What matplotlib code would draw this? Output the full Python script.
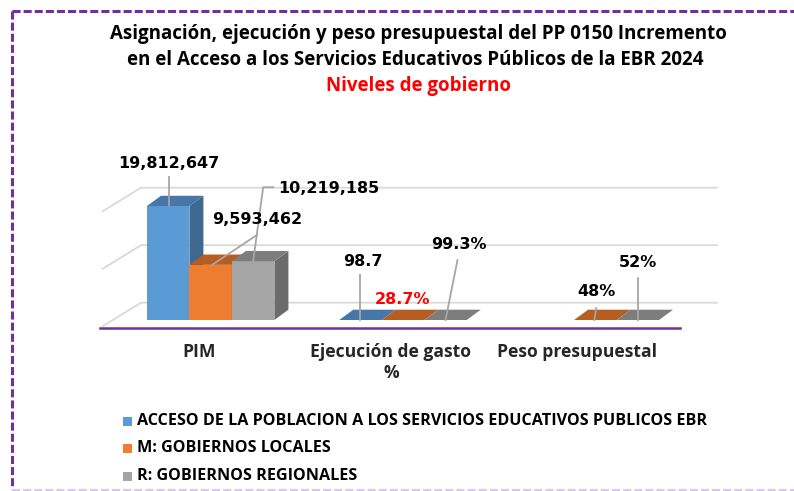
import numpy as np
import matplotlib
matplotlib.use("Agg")
import matplotlib.pyplot as plt
from matplotlib.patches import Polygon, Rectangle
from matplotlib.lines import Line2D

plt.rcParams['lines.scale_dashes'] = False

# ---------------- data ----------------
categories = ["PIM", "Ejecución de gasto\n%", "Peso presupuestal"]
series_names = ["ACCESO DE LA POBLACION A LOS SERVICIOS EDUCATIVOS PUBLICOS EBR",
                "M: GOBIERNOS LOCALES",
                "R: GOBIERNOS REGIONALES"]
acceso = [19812647, 98.7, np.nan]
locales = [9593462, 28.7, 48]
regionales = [10219185, 99.3, 52]
acceso_labels = ["19,812,647", "98.7", ""]
locales_labels = ["9,593,462", "28.7%", "48%"]
regionales_labels = ["10,219,185", "99.3%", "52%"]
y_ticks = [0, 10000000, 20000000]
title_lines = ["Asignación, ejecución y peso presupuestal del PP 0150 Incremento",
               "en el Acceso a los Servicios Educativos Públicos de la EBR 2024"]
subtitle = "Niveles de gobierno"

# ---------------- styling ----------------
front_cols = ["#5B9BD5", "#ED7D31", "#A5A5A5"]
top_cols = ["#4677A8", "#B55D22", "#7D7D7D"]
side_cols = ["#3D6890", "#A5541E", "#6B6B6B"]
label_cols = [["#000000"] * 3, ["#000000", "#FF0000", "#000000"], ["#000000"] * 3]
TFONT = "Open Sans"

W, H = 794, 491
fig = plt.figure(figsize=(W / 100, H / 100), dpi=100)
fig.patch.set_facecolor("white")

AX_L, AX_W, AX_BOT, AX_H = 114.5, 577.0, 320.0, 115.0
ax = fig.add_axes([AX_L / W, (H - AX_BOT) / H, AX_W / W, AX_H / H])
ax.set_xlim(-0.5, 2.5)
ax.set_ylim(0, y_ticks[-1])
ax.axis("off")

pxx = AX_W / 3.0
pxy = AX_H / y_ticks[-1]


def P(x, y, dx=0.0, dy=0.0):
    return (x + dx / pxx, y + dy / pxy)


FRONT = (-12.5, -6.7)
BACK = (26.5, 17.3)
BD = (14.0, 10.3)

# gridlines (back wall + left wall)
for t in y_ticks:
    a = P(-0.5, t, *FRONT)
    b = P(-0.5, t, *BACK)
    c = P(2.5, t, *BACK)
    ax.plot([a[0], b[0], c[0]], [a[1], b[1], c[1]], color="#D9D9D9", lw=1.3,
            clip_on=False, zorder=1, solid_capstyle="butt")

# purple floor front line
a = P(-0.5, 0, FRONT[0] - 2, FRONT[1] - 1.5)
b = P(2.5, 0, FRONT[0] + 1, FRONT[1] - 1.5)
ax.plot([a[0], b[0]], [a[1], b[1]], color="#7030A0", lw=1.8, clip_on=False, zorder=1.5)

# bars
bw = 42.5 / pxx
series = [acceso, locales, regionales]
labels = [acceso_labels, locales_labels, regionales_labels]
xpos = np.arange(len(categories))
offsets = [-bw, 0.0, bw]
for i, vals in enumerate(series):
    vals = np.array(vals, dtype=float)
    z = 2 + i
    ax.bar(xpos + offsets[i], vals, bw, color=front_cols[i], zorder=z, clip_on=False,
           linewidth=0)
    for j, v in enumerate(vals):
        if np.isnan(v):
            continue
        x0 = j + offsets[i] - bw / 2
        x1 = x0 + bw
        side = [P(x1, 0), P(x1, v), P(x1, v, *BD), P(x1, 0, *BD)]
        top = [P(x0, v), P(x1, v), P(x1, v, *BD), P(x0, v, *BD)]
        ax.add_patch(Polygon(side, closed=True, facecolor=side_cols[i], edgecolor="none",
                             zorder=z, clip_on=False))
        ax.add_patch(Polygon(top, closed=True, facecolor=top_cols[i], edgecolor="none",
                             zorder=z, clip_on=False))

# data labels with leader lines (pixel offsets from bar-top front centre)
label_pos = [[(1, 43), (2.5, 58), None],
             [(46.5, 45), (-0.5, 20), (1, 28)],
             [(76, 73), (13, 75), (0.5, 57)]]
leaders = [[[(1, 1), (1, 29)], [(0, 0), (0, 45)], None],
           [[(1.5, 0), (46.5, 30)], None, [(-1, 0), (1, 12)]],
           [[(0, 0), (10, 74), (20, 74)], [(0, 0), (12, 60)], [(0, 0), (0, 42)]]]
for i, vals in enumerate(series):
    for j, v in enumerate(vals):
        if np.isnan(v) or label_pos[i][j] is None:
            continue
        xc = j + offsets[i]
        if leaders[i][j] is not None:
            pts = [P(xc, v, dx, dy) for dx, dy in leaders[i][j]]
            ax.plot([p[0] for p in pts], [p[1] for p in pts], color="#A6A6A6", lw=1.3,
                    clip_on=False, zorder=9)
        tx, ty = P(xc, v, *label_pos[i][j])
        ax.text(tx, ty, labels[i][j], ha="center", va="center", fontsize=11.5,
                fontweight="bold", family="DejaVu Sans", color=label_cols[i][j],
                zorder=10, clip_on=False)

# category labels
cat_dx = [-12, -12, -18]
for j, c in enumerate(categories):
    tx, ty = P(j, 0, cat_dx[j], -23)
    ax.text(tx, ty, c, ha="center", va="top", fontsize=12.6, fontweight="bold",
            family=TFONT, color="#262626", linespacing=1.2, clip_on=False)

# title
fig.text(418 / W, 1 - 34 / H, title_lines[0], ha="center", va="center", fontsize=13.5,
         fontweight="bold", family=TFONT, color="#000000")
fig.text(415 / W, 1 - 60 / H, title_lines[1], ha="center", va="center", fontsize=13.5,
         fontweight="bold", family=TFONT, color="#000000")
fig.text(418 / W, 1 - 86 / H, subtitle, ha="center", va="center", fontsize=13.5,
         fontweight="bold", family=TFONT, color="#FF0000")

# legend
leg_y = [421, 448, 476]
for k, name in enumerate(series_names):
    fig.patches.append(Rectangle((123 / W, 1 - (leg_y[k] + 4.5) / H), 9 / W, 9 / H,
                                 transform=fig.transFigure, facecolor=front_cols[k],
                                 edgecolor="none"))
    fig.text(137 / W, 1 - leg_y[k] / H, name, ha="left", va="center", fontsize=11.6,
             fontweight="bold", family=TFONT, color="#000000")

# dashed border
fig.add_artist(Line2D([11.5 / W, 11.5 / W], [1 - 10.5 / H, 1 - 489 / H], color="#7030A0",
                      lw=2.2, linestyle=(0, (5.8, 2.2)), transform=fig.transFigure))
fig.add_artist(Line2D([11.5 / W, 1.0], [1 - 10.5 / H, 1 - 10.5 / H], color="#7030A0",
                      lw=2.2, linestyle=(0, (5.8, 2.2)), transform=fig.transFigure))
fig.add_artist(Line2D([11.5 / W, 1.0], [1 - 489.5 / H, 1 - 489.5 / H], color="#DCC8EC",
                      lw=1.6, linestyle=(0, (5.8, 2.2)), transform=fig.transFigure))

fig.savefig("out.png", dpi=100, facecolor="white")
